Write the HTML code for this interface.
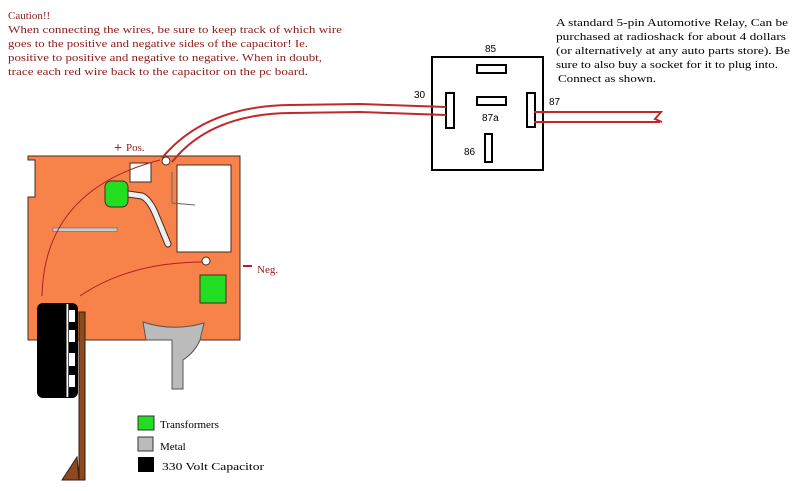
<!DOCTYPE html>
<html><head><meta charset="utf-8"><style>
html,body{margin:0;padding:0;background:#fff;}
svg{display:block;}
text{font-family:"Liberation Serif",serif;font-size:11px;}
.r{fill:#8b1a1a;}
.s{font-family:"Liberation Sans",sans-serif;font-size:10px;fill:#000;}
</style></head><body>
<svg width="800" height="491" viewBox="0 0 800 491" xmlns="http://www.w3.org/2000/svg">
<rect width="800" height="491" fill="#fff"/>
<g class="r">
<text x="8" y="19" class="r">Caution!!</text>
<text x="8" y="33" class="r" textLength="334" lengthAdjust="spacingAndGlyphs">When connecting the wires, be sure to keep track of which wire</text>
<text x="8" y="47" class="r" textLength="300" lengthAdjust="spacingAndGlyphs">goes to the positive and negative sides of the capacitor! Ie.</text>
<text x="8" y="61" class="r" textLength="314" lengthAdjust="spacingAndGlyphs">positive to positive and negative to negative. When in doubt,</text>
<text x="8" y="75" class="r" textLength="300" lengthAdjust="spacingAndGlyphs">trace each red wire back to the capacitor on the pc board.</text>
</g>
<text x="556" y="26" textLength="232" lengthAdjust="spacingAndGlyphs">A standard 5-pin Automotive Relay, Can be</text>
<text x="556" y="40" textLength="230" lengthAdjust="spacingAndGlyphs">purchased at radioshack for about 4 dollars</text>
<text x="556" y="54" textLength="234" lengthAdjust="spacingAndGlyphs">(or alternatively at any auto parts store). Be</text>
<text x="556" y="68" textLength="222" lengthAdjust="spacingAndGlyphs">sure to also buy a socket for it to plug into.</text>
<text x="558" y="82" textLength="98" lengthAdjust="spacingAndGlyphs">Connect as shown.</text>

<rect x="432" y="57" width="111" height="113" fill="#fff" stroke="#000" stroke-width="2"/>
<rect x="477" y="65" width="29" height="8" fill="#fff" stroke="#000" stroke-width="2"/>
<rect x="477" y="97" width="29" height="8" fill="#fff" stroke="#000" stroke-width="2"/>
<rect x="446" y="93" width="8" height="35" fill="#fff" stroke="#000" stroke-width="2"/>
<rect x="527" y="93" width="8" height="34" fill="#fff" stroke="#000" stroke-width="2"/>
<rect x="485" y="134" width="7" height="28" fill="#fff" stroke="#000" stroke-width="2"/>
<text x="485" y="52" class="s">85</text>
<text x="414" y="98" class="s">30</text>
<text x="549" y="105" class="s">87</text>
<text x="482" y="121" class="s">87a</text>
<text x="464" y="155" class="s">86</text>

<g fill="none" stroke="#c0282a" stroke-width="2">
<path d="M534 112 L661 112 L655 119 L662 122"/>
<path d="M534 122 L660 122"/>
</g>

<path d="M28 156 L240 156 L240 340 L28 340 L28 197 L35 197 L35 160 L28 160 Z" fill="#f7824a" stroke="#4a2a20" stroke-width="1"/>
<rect x="177" y="165" width="54" height="87" fill="#fff" stroke="#4a2a20" stroke-width="1"/>
<rect x="130" y="163" width="21" height="19" fill="#fff" stroke="#4a2a20" stroke-width="1"/>
<path d="M128 194 L142 196 Q150 200 156 215 L168 244" fill="none" stroke="#4a2a20" stroke-width="7" stroke-linecap="round"/>
<path d="M128 194 L142 196 Q150 200 156 215 L168 244" fill="none" stroke="#eee" stroke-width="5" stroke-linecap="round"/>
<rect x="105" y="181" width="23" height="26" rx="6" fill="#22dd22" stroke="#4a2a20" stroke-width="1"/>
<rect x="53" y="228" width="64" height="3.5" fill="#ccc" stroke="#555" stroke-width="0.5"/>
<rect x="200" y="275" width="26" height="28" fill="#22dd22" stroke="#4a2a20" stroke-width="1"/>
<path d="M172 172 L172 203 L195 205" fill="none" stroke="#666" stroke-width="1"/>
<path d="M42 296 Q44 190 160 160" fill="none" stroke="#b22020" stroke-width="1"/>
<path d="M80 296 Q130 262 204 262" fill="none" stroke="#b22020" stroke-width="1"/>
<circle cx="206" cy="261" r="4" fill="#fff" stroke="#4a2a20"/>
<text x="114" y="152" style="font-size:14px;font-weight:bold;fill:#b22020">+</text>
<text x="126" y="151" class="r">Pos.</text>
<rect x="243" y="265" width="9" height="2" fill="#b22020"/>
<text x="257" y="273" class="r">Neg.</text>

<g fill="none" stroke="#c0282a" stroke-width="2">
<path d="M162 158 Q205 106 290 105 L360 104 L446 107"/>
<path d="M172 162 Q210 114 290 113 L360 112 L446 115"/>
</g>
<circle cx="166" cy="161" r="4" fill="#fff" stroke="#4a2a20"/>

<path d="M143 322 Q173 332 204 323 L200 340 Q195 352 183 360 L183 389 L172 389 L172 340 L146 340 Z" fill="#bbb" stroke="#555" stroke-width="1"/>

<rect x="79" y="312" width="6" height="168" fill="#8b4b22" stroke="#3a1a08" stroke-width="1"/>
<path d="M62 480 L77 457 L79 480 Z" fill="#8b4b22" stroke="#3a1a08" stroke-width="1"/>
<rect x="37" y="303" width="41" height="95" rx="6" fill="#000"/>
<rect x="66.5" y="304" width="1.8" height="93" fill="#fff"/>
<rect x="69" y="310" width="6" height="12" fill="#fff"/>
<rect x="69" y="330" width="6" height="12" fill="#fff"/>
<rect x="69" y="353" width="6" height="13" fill="#fff"/>
<rect x="69" y="375" width="6" height="12" fill="#fff"/>

<rect x="138" y="416" width="16" height="14" fill="#22dd22" stroke="#333"/>
<text x="160" y="428">Transformers</text>
<rect x="138" y="437" width="15" height="14" fill="#bbb" stroke="#333"/>
<text x="160" y="450">Metal</text>
<rect x="138" y="457" width="16" height="15" fill="#000"/>
<text x="162" y="470" textLength="102" lengthAdjust="spacingAndGlyphs">330 Volt  Capacitor</text>
</svg>
</body></html>
